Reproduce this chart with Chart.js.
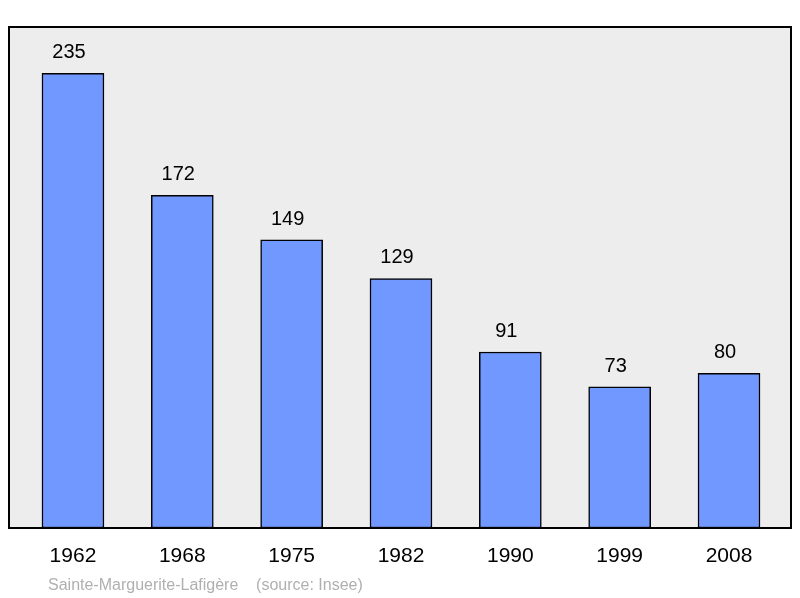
<!DOCTYPE html>
<html>
<head>
<meta charset="utf-8">
<script src="https://cdn.jsdelivr.net/npm/chart.js@4"></script>
<style>
body { margin: 0; background: #fff; }
#wrap { width: 800px; height: 598px; position: relative; }
</style>
</head>
<body>
<div id="wrap"><canvas id="pop" width="800" height="598"></canvas></div>
<script>
const years = ['1962', '1968', '1975', '1982', '1990', '1999', '2008'];
const population = [235, 172, 149, 129, 91, 73, 80];
const footer = 'Sainte-Marguerite-Lafigère    (source: Insee)';

const framePlugin = {
    id: 'frame',
    beforeDraw(chart) {
        const {ctx, chartArea: a} = chart;
        ctx.save();
        ctx.fillStyle = '#ededed';
        ctx.fillRect(a.left, a.top, a.right - a.left, a.bottom - a.top);
        ctx.restore();
    },
    afterDraw(chart) {
        const {ctx, chartArea: a} = chart;
        ctx.save();
        ctx.strokeStyle = '#000';
        ctx.lineWidth = 2;
        ctx.strokeRect(a.left, a.top, a.right - a.left, a.bottom - a.top);
        ctx.font = '20px "Liberation Sans", Arial, sans-serif';
        ctx.fillStyle = '#000';
        ctx.textAlign = 'center';
        ctx.textBaseline = 'alphabetic';
        const meta = chart.getDatasetMeta(0);
        meta.data.forEach((bar, i) => {
            ctx.fillText(String(population[i]), bar.x - 4, bar.y - 15);
        });
        ctx.font = '16px "Liberation Sans", Arial, sans-serif';
        ctx.fillStyle = '#b0b0b0';
        ctx.textAlign = 'left';
        ctx.fillText(footer, 48, 590);
        ctx.restore();
    }
};

new Chart(document.getElementById('pop'), {
    type: 'bar',
    data: {
        datasets: [{
            data: population.map((v, i) => ({x: i, y: v})),
            backgroundColor: '#7098ff',
            borderColor: '#000',
            borderWidth: 1.5,
            borderSkipped: false,
            barThickness: 62
        }]
    },
    options: {
        responsive: false,
        animation: false,
        layout: {padding: {left: 9, right: 9, top: 27, bottom: 0}},
        plugins: {legend: {display: false}, tooltip: {enabled: false}},
        scales: {
            x: {
                type: 'linear',
                offset: false,
                bounds: 'ticks',
                min: -0.585,
                max: 6.567,
                afterBuildTicks: axis => { axis.ticks = years.map((y, i) => ({value: i})); },
                ticks: {
                    callback: v => years[v],
                    color: '#000',
                    font: {size: 21, family: '"Liberation Sans", Arial, sans-serif'},
                    padding: 8
                },
                grid: {display: false, offset: false},
                border: {display: false},
                afterFit: axis => { axis.height = 70; }
            },
            y: {
                min: 0,
                max: 259,
                display: false
            }
        }
    },
    plugins: [framePlugin]
});
</script>
</body>
</html>
